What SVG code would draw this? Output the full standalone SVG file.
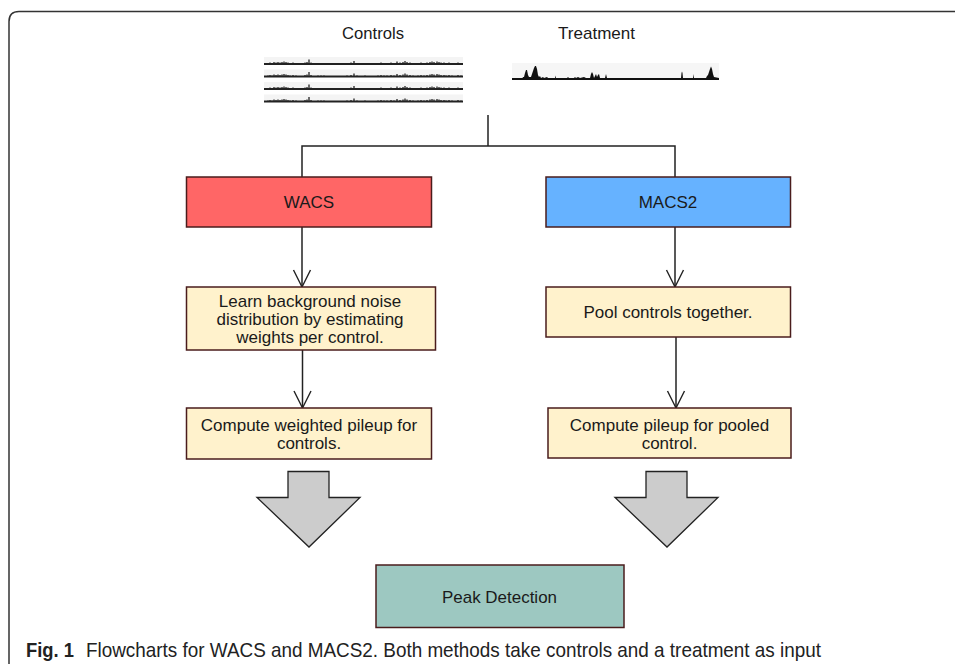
<svg xmlns="http://www.w3.org/2000/svg" width="955" height="664" viewBox="0 0 955 664">
<style>
  .box { stroke: #4a1c1c; stroke-width: 1.5; }
  .lbl { font-family: "Liberation Sans", Arial, sans-serif; font-size: 17px; fill: #1a1a1a; text-anchor: middle; }
  .conn { fill: none; stroke: #222; stroke-width: 1.5; }
  .block { fill: #cccccc; stroke: #222; stroke-width: 1.3; stroke-linejoin: miter; }
  .spk { fill: none; stroke: #222; stroke-width: 1.3; }
  .cap { font-family: "Liberation Sans", Arial, sans-serif; font-size: 21px; fill: #222; }
</style>
<defs>
  <marker id="open" viewBox="-1 -10 20 20" refX="17" refY="0" markerWidth="20" markerHeight="20" markerUnits="userSpaceOnUse" orient="auto">
    <path d="M0,-8.5 L17,0 L0,8.5" fill="none" stroke="#222" stroke-width="1.4"/>
  </marker>
  <g id="ctrack">
    <rect x="264" y="-7" width="199" height="7" fill="#f4f4f4"/>
    <path class="spk" d="M268,0v-1 M270,0v-1.5 M272,0v-1 M274,0v-2 M276,0v-1.5 M278,0v-2 M280,0v-1.5 M282,0v-2 M284,0v-2.5 M286,0v-2 M288,0v-1.5 M290,0v-1 M293,0v-1.5 M296,0v-1 M305,0v-1.5 M307,0v-2 M309,0v-4.5 M311,0v-1.5 M318,0v-1 M321,0v-1 M324,0v-1 M347,0v-1 M351,0v-1.5 M354,0v-3 M357,0v-1 M365,0v-1 M378,0v-1 M381,0v-1.5 M384,0v-1 M387,0v-1 M391,0v-1.5 M394,0v-1 M397,0v-2.5 M400,0v-1.5 M403,0v-2 M405,0v-3 M407,0v-2 M410,0v-1.5 M413,0v-1 M418,0v-1 M421,0v-1.5 M424,0v-1 M427,0v-1.5 M430,0v-2 M432,0v-2.5 M434,0v-2 M437,0v-2.5 M439,0v-2 M441,0v-1.5 M444,0v-1.5 M446,0v-1 M449,0v-1.5 M452,0v-1 M458,0v-1.5 M461,0v-1"/>
    <line x1="264" y1="0" x2="463" y2="0" stroke="#222" stroke-width="1.9"/>
  </g>
</defs>
<rect width="955" height="664" fill="#ffffff"/>
<path d="M9,664 V21.5 Q9,11.5 19,11.5 H955" fill="none" stroke="#333" stroke-width="1.5"/>

<g id="controls">
  <text class="lbl" x="373" y="39" textLength="62" lengthAdjust="spacingAndGlyphs">Controls</text>
  <use href="#ctrack" transform="translate(0,64)"/>
  <use href="#ctrack" transform="translate(0,76.5)"/>
  <use href="#ctrack" transform="translate(0,89)"/>
  <use href="#ctrack" transform="translate(0,101.5)"/>
</g>

<g id="treatment">
  <text class="lbl" x="596.5" y="39" textLength="77" lengthAdjust="spacingAndGlyphs">Treatment</text>
  <rect x="512" y="63" width="207" height="16" fill="#f6f6f6"/>
  <path fill="#111" d="M512,79 L522,79 L523,77 L524,77 L525,73 L526,70 L527,70 L528,75 L529,77 L531,77 L532,74 L533,71 L534,68 L535,66 L536,66 L537,69 L538,75 L539,77 L540,76 L541,78 L543,77 L544,78 L547,77 L548,78 L555,78 L555.5,75.5 L556,78 L567,78 L568,77 L569,78 L574,78 L575,77 L576,78 L578,77 L580,78 L584,77 L586,78 L590,78 L591,74 L592,72 L593,74 L594,78 L595,76 L596,74 L597,77 L598,75 L599,74 L600,78 L605,78 L606,74 L607,78 L681,78 L681.5,73 L682,71.5 L682.5,73 L683,78 L693,78 L693.5,74 L694,78 L706,78 L707,76 L708,75 L709,72 L710,69 L711,66.5 L712,69 L713,74 L714,77 L719,78 L719,80 L512,80 Z"/>
  <line x1="512" y1="79" x2="719" y2="79" stroke="#111" stroke-width="1.9"/>
</g>

<g id="connectors">
  <path class="conn" d="M488,115 V146 M302,177 V146 H675 V177"/>
  <line class="conn" x1="302" y1="227" x2="302" y2="287" marker-end="url(#open)"/>
  <line class="conn" x1="302.5" y1="350" x2="302.5" y2="408" marker-end="url(#open)"/>
  <line class="conn" x1="675" y1="227" x2="675" y2="287" marker-end="url(#open)"/>
  <line class="conn" x1="676" y1="337" x2="676" y2="408" marker-end="url(#open)"/>
  <path class="block" d="M288,471.5 H329 V497.5 H360 L309,547 L257,497.5 H288 Z"/>
  <path class="block" d="M646,471.5 H687 V497.5 H718 L667,547 L615,497.5 H646 Z"/>
</g>

<g id="wacs">
  <rect class="box" x="186.5" y="177" width="245" height="50" fill="#ff6666"/>
  <text class="lbl" x="309" y="208">WACS</text>
</g>

<g id="macs2">
  <rect class="box" x="546" y="177" width="244.5" height="50" fill="#66b2ff"/>
  <text class="lbl" x="668" y="208">MACS2</text>
</g>

<g id="learn">
  <rect class="box" x="186.5" y="287" width="249" height="63" fill="#fff2cc"/>
  <text class="lbl" x="310" y="307">Learn background noise</text>
  <text class="lbl" x="310" y="325">distribution by estimating</text>
  <text class="lbl" x="310" y="343">weights per control.</text>
</g>

<g id="pool">
  <rect class="box" x="546" y="287" width="244.5" height="50" fill="#fff2cc"/>
  <text class="lbl" x="668" y="318">Pool controls together.</text>
</g>

<g id="weighted">
  <rect class="box" x="186.5" y="408" width="245" height="51" fill="#fff2cc"/>
  <text class="lbl" x="309" y="431">Compute weighted pileup for</text>
  <text class="lbl" x="309" y="449">controls.</text>
</g>

<g id="pooled">
  <rect class="box" x="548" y="408" width="243" height="50" fill="#fff2cc"/>
  <text class="lbl" x="669.5" y="430.5">Compute pileup for pooled</text>
  <text class="lbl" x="669.5" y="448.5">control.</text>
</g>

<g id="peak">
  <rect class="box" x="376" y="565" width="248" height="62.5" fill="#9dc8c1"/>
  <text class="lbl" x="499.5" y="603" font-size="16" textLength="115" lengthAdjust="spacingAndGlyphs">Peak Detection</text>
</g>

<g id="caption">
  <text class="cap" x="26" y="657" font-weight="bold" textLength="48" lengthAdjust="spacingAndGlyphs">Fig. 1</text>
  <text class="cap" x="86" y="657" textLength="735" lengthAdjust="spacingAndGlyphs">Flowcharts for WACS and MACS2. Both methods take controls and a treatment as input</text>
</g>
</svg>
